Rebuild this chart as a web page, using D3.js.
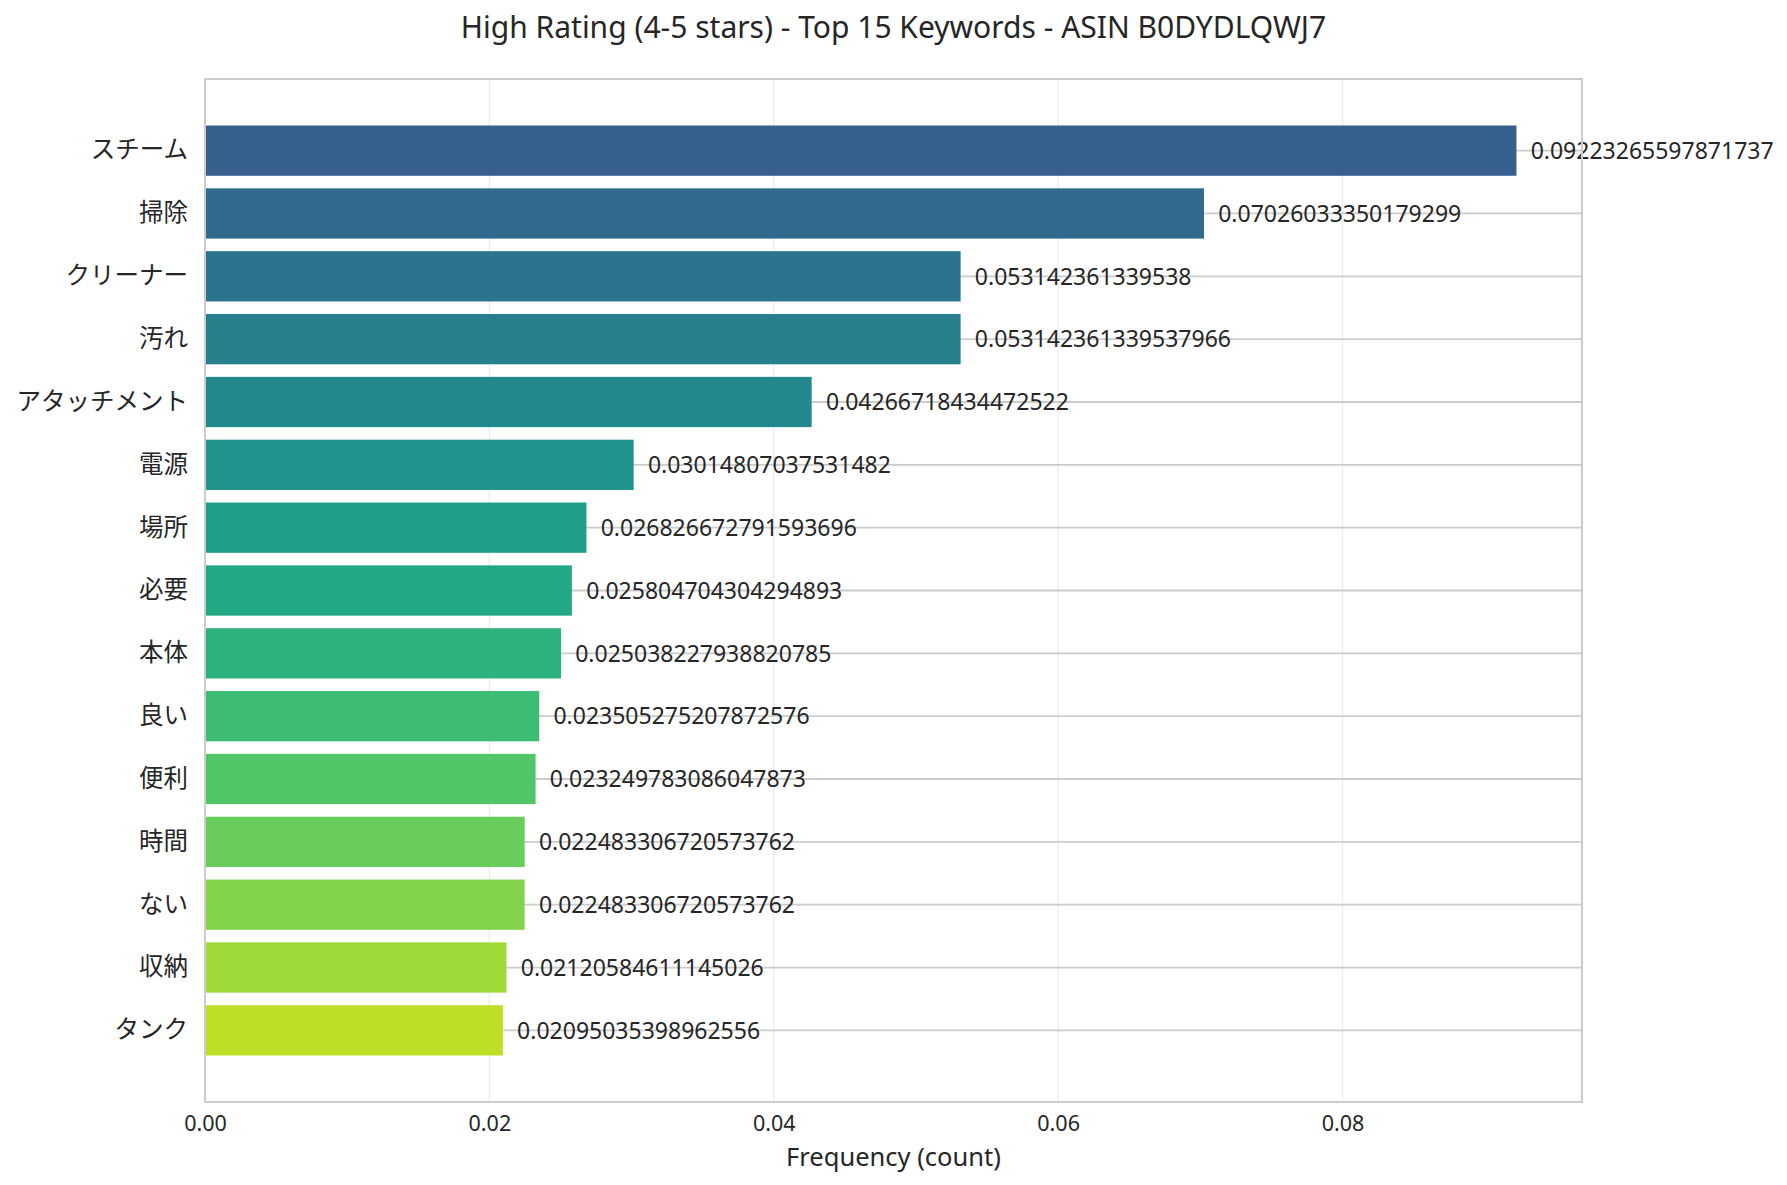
<html>
<head>
    <meta charset="utf-8">
    <script src="https://d3js.org/d3.v7.min.js"></script>
    <style>
    body {
      margin: 0;
      background: #ffffff;
      font-family: 'Noto Sans', 'Noto Sans CJK JP', sans-serif;
    }
    svg {
      display: block;
    }
    </style>
</head>
<body>

    <svg height="1185" width="1787"></svg>

    <script>
        // keywords, top to bottom
        var keywords = ["スチーム", "掃除", "クリーナー", "汚れ", "アタッチメント", "電源", "場所", "必要",
                        "本体", "良い", "便利", "時間", "ない", "収納", "タンク"];

        var frequencies = [0.09223265597871737, 0.07026033350179299, 0.053142361339538, 0.053142361339537966,
                           0.04266718434472522, 0.03014807037531482, 0.026826672791593696, 0.025804704304294893,
                           0.025038227938820785, 0.023505275207872576, 0.023249783086047873, 0.022483306720573762,
                           0.022483306720573762, 0.02120584611145026, 0.02095035398962556];

        var xTicks = [0, 0.02, 0.04, 0.06, 0.08];

        var title = "High Rating (4-5 stars) - Top 15 Keywords - ASIN B0DYDLQWJ7";
        var xLabel = "Frequency (count)";

        var data = keywords.map(function(k, i) { return {key: k, value: frequencies[i]}; });

        var font = "'Noto Sans', 'Noto Sans CJK JP', sans-serif";

        var svg = d3.select("svg");
        var width = +svg.attr("width");
        var height = +svg.attr("height");

        var margin = {top: 79, right: 205, bottom: 83, left: 205};
        var plotW = width - margin.left - margin.right;
        var plotH = height - margin.top - margin.bottom;

        var g = svg.append("g")
            .attr("transform", "translate(" + margin.left + "," + margin.top + ")");

        // 5% padding on the right like matplotlib
        var xMax = d3.max(frequencies) * 1.05;
        var x = d3.scaleLinear().domain([0, xMax]).range([0, plotW]);

        var y = d3.scaleBand()
            .domain(keywords)
            .range([0, plotH])
            .paddingInner(0.2)
            .paddingOuter(0.74);

        var color = function(i) { return d3.interpolateViridis(0.3 + 0.6 * i / (keywords.length - 1)); };

        // vertical grid (light)
        g.append("g")
            .selectAll("line")
            .data(xTicks)
            .enter().append("line")
            .attr("x1", function(d) { return x(d); })
            .attr("x2", function(d) { return x(d); })
            .attr("y1", 0)
            .attr("y2", plotH)
            .attr("stroke", "#ebebeb")
            .attr("stroke-width", 1.2);

        // horizontal grid at each bar
        g.append("g")
            .selectAll("line")
            .data(keywords)
            .enter().append("line")
            .attr("x1", 0)
            .attr("x2", plotW)
            .attr("y1", function(d) { return y(d) + y.bandwidth() / 2; })
            .attr("y2", function(d) { return y(d) + y.bandwidth() / 2; })
            .attr("stroke", "#cccccc")
            .attr("stroke-width", 1.8);

        // bars
        g.append("g")
            .selectAll("rect")
            .data(data)
            .enter().append("rect")
            .attr("x", x(0))
            .attr("y", function(d) { return y(d.key); })
            .attr("width", function(d) { return x(d.value) - x(0); })
            .attr("height", y.bandwidth())
            .attr("fill", function(d, i) { return color(i); });

        // value labels
        g.append("g")
            .selectAll("text")
            .data(data)
            .enter().append("text")
            .attr("x", function(d) { return x(d.value + 0.001); })
            .attr("y", function(d) { return y(d.key) + y.bandwidth() / 2; })
            .attr("dy", "0.36em")
            .attr("font-family", font)
            .attr("font-size", 23)
            .attr("fill", "#262626")
            .text(function(d) { return String(d.value); });

        // frame
        g.append("rect")
            .attr("x", 0)
            .attr("y", 0)
            .attr("width", plotW)
            .attr("height", plotH)
            .attr("fill", "none")
            .attr("stroke", "#cccccc")
            .attr("stroke-width", 2);

        // axes
        var xAxis = d3.axisBottom(x).tickValues(xTicks).tickFormat(d3.format(".2f")).tickSize(0).tickPadding(14);
        var yAxis = d3.axisLeft(y).tickSize(0).tickPadding(17);

        var gx = g.append("g")
            .attr("transform", "translate(0," + plotH + ")")
            .call(xAxis);
        gx.select(".domain").remove();
        gx.selectAll("text")
            .attr("font-family", font)
            .attr("font-size", 21.5)
            .attr("fill", "#262626");

        var gy = g.append("g").call(yAxis);
        gy.select(".domain").remove();
        gy.selectAll("text")
            .attr("font-family", font)
            .attr("font-size", 24.5)
            .attr("fill", "#262626");

        // titles
        svg.append("text")
            .attr("x", margin.left + plotW / 2)
            .attr("y", 27)
            .attr("dy", "0.35em")
            .attr("text-anchor", "middle")
            .attr("font-family", font)
            .attr("font-size", 30)
            .attr("fill", "#262626")
            .text(title);

        svg.append("text")
            .attr("x", margin.left + plotW / 2)
            .attr("y", 1157)
            .attr("dy", "0.35em")
            .attr("text-anchor", "middle")
            .attr("font-family", font)
            .attr("font-size", 25.5)
            .attr("fill", "#262626")
            .text(xLabel);
    </script>
</body>
</html>
